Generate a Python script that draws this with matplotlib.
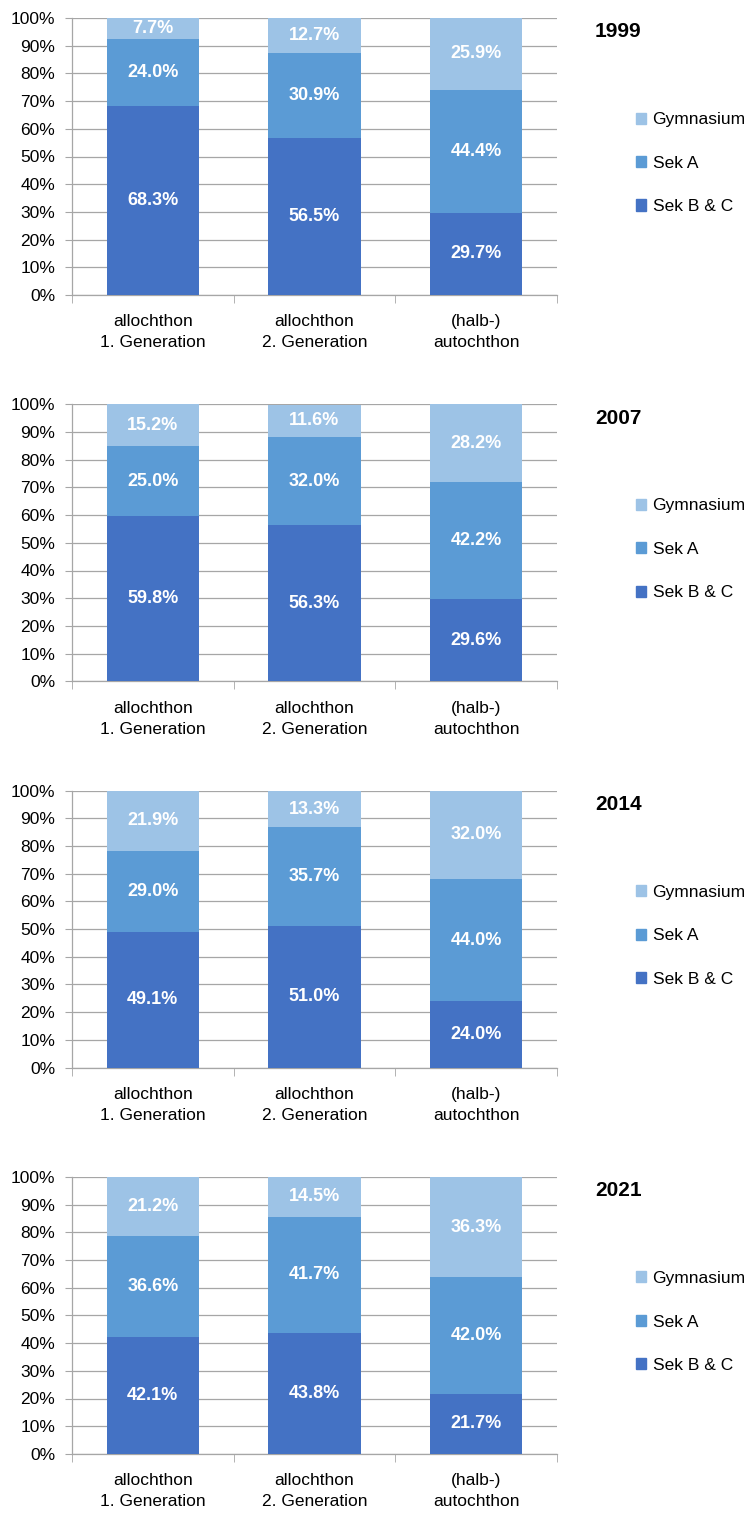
import matplotlib.pyplot as plt
import numpy as np
from matplotlib.patches import Patch
from matplotlib.ticker import FixedLocator

plt.rcParams['font.family'] = ['Liberation Sans', 'DejaVu Sans']
fs = 12.5

# Data
years = ['1999', '2007', '2014', '2021']
categories = ['allochthon\n1. Generation', 'allochthon\n2. Generation', '(halb-)\nautochthon']
series_names = ['Sek B & C', 'Sek A', 'Gymnasium']
sek_bc = [[68.3, 56.5, 29.7], [59.8, 56.3, 29.6], [49.1, 51.0, 24.0], [42.1, 43.8, 21.7]]
sek_a = [[24.0, 30.9, 44.4], [25.0, 32.0, 42.2], [29.0, 35.7, 44.0], [36.6, 41.7, 42.0]]
gymnasium = [[7.7, 12.7, 25.9], [15.2, 11.6, 28.2], [21.9, 13.3, 32.0], [21.2, 14.5, 36.3]]

colors = ['#4472C4', '#5B9BD5', '#9DC3E6']
grid_col = '#A6A6A6'

W, H = 749, 1515
fig = plt.figure(figsize=(W / 100, H / 100), dpi=100)

for i, year in enumerate(years):
    top_px = 18 + 386.3 * i
    ax = fig.add_axes([72 / W, 1 - (top_px + 277) / H, 485 / W, 277 / H])
    x = np.arange(len(categories))
    bottom = np.zeros(len(categories))
    for vals, col in zip([sek_bc[i], sek_a[i], gymnasium[i]], colors):
        vals = np.array(vals)
        ax.bar(x, vals, width=0.57, bottom=bottom, color=col, zorder=3)
        for xi, b, v in zip(x, bottom, vals):
            ax.text(xi, b + v / 2, f'{v:.1f}%', ha='center', va='center',
                    color='white', fontsize=fs + 0.5, fontweight='bold', zorder=4)
        bottom += vals

    ax.set_xlim(-0.5, 2.5)
    ax.set_ylim(0, 100)
    ax.set_yticks(np.arange(0, 101, 10))
    ax.set_yticklabels([f'{v}%' for v in range(0, 101, 10)], fontsize=fs)
    ax.set_xticks(x)
    ax.set_xticklabels(categories, fontsize=fs, linespacing=1.5)
    ax.xaxis.set_minor_locator(FixedLocator([-0.5, 0.5, 1.5, 2.5]))
    ax.tick_params(axis='x', which='major', length=0, pad=14)
    ax.tick_params(axis='x', which='minor', length=6, color=grid_col)
    ax.tick_params(axis='y', length=5, color=grid_col, pad=7)
    ax.grid(axis='y', color=grid_col, linewidth=0.9, zorder=0)
    for s in ['top', 'right']:
        ax.spines[s].set_visible(False)
    for s in ['left', 'bottom']:
        ax.spines[s].set_color(grid_col)
        ax.spines[s].set_linewidth(0.9)

    ax.text(1.078, 0.95, year, transform=ax.transAxes, fontsize=fs + 2.5,
            fontweight='bold', ha='left', va='center')

    handles = [Patch(color=c, label=n) for c, n in zip(colors, series_names)][::-1]
    ax.legend(handles=handles, loc='upper left', bbox_to_anchor=(1.163, 0.66),
              frameon=False, fontsize=fs, handlelength=0.6, handleheight=0.6,
              handletextpad=0.35, labelspacing=1.64, borderpad=0, borderaxespad=0)

fig.savefig('out.png', dpi=100)
